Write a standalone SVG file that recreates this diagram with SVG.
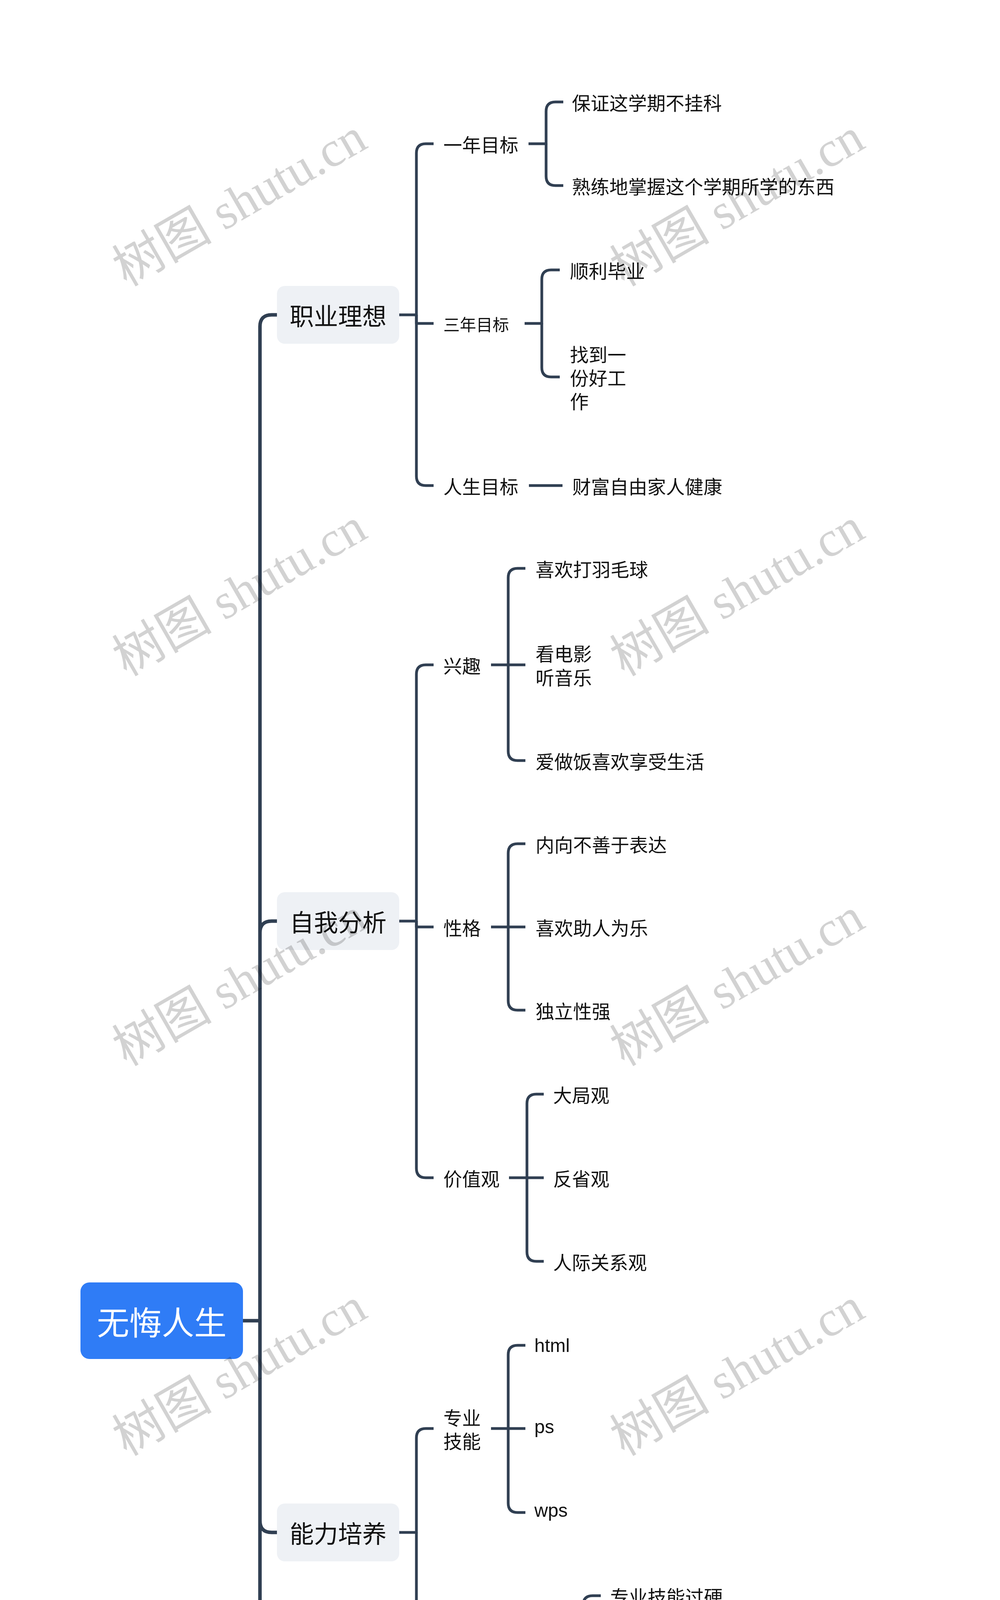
<svg xmlns="http://www.w3.org/2000/svg" width="2560" height="6700" viewBox="0 0 2560 6700">
<style>
.bg{fill:#ffffff}
.c{fill:none;stroke:#303f52;stroke-linecap:butt;stroke-linejoin:round}
.c0{stroke-width:9}
.c1{stroke-width:7}
.c2{stroke-width:7}
.t{font-family:"Noto Sans CJK SC","Liberation Sans",sans-serif;fill:#111111;dominant-baseline:central}
.lat{font-family:"Liberation Sans","Noto Sans CJK SC",sans-serif;fill:#111111;dominant-baseline:central}
.s48{font-size:48px}
.s42{font-size:42px}
.s62{font-size:62px}
.box{fill:#eef1f5}
.root{fill:#2f7cf6}
.rt{font-family:"Noto Sans CJK SC","Liberation Sans",sans-serif;fill:#ffffff;font-size:83px;dominant-baseline:central}
.wm{font-family:"Liberation Serif","Noto Sans CJK SC",serif;font-size:128px;fill:#d2d2d2;mix-blend-mode:multiply}
</style>
<rect class="bg" x="0" y="0" width="2560" height="6700"/>

<g id="connectors">
  <path class="c c0" d="M622,3381 H665.5 V836 Q665.5,806 695.5,806 H709"/>
  <path class="c c0" d="M665.5,3381 V2388 Q665.5,2358 695.5,2358 H709"/>
  <path class="c c0" d="M665.5,3381 V3893 Q665.5,3923 695.5,3923 H709"/>
  <path class="c c0" d="M665.5,3381 V4909 Q665.5,4939 695.5,4939 H709"/>
  <path class="c c0" d="M665.5,3381 V5926 Q665.5,5956 695.5,5956 H709"/>

  <path class="c c1" d="M1022,806 H1066 V392 Q1066,368 1090,368 H1110"/>
  <path class="c c1" d="M1066,806 V828 H1110"/>
  <path class="c c1" d="M1066,806 V1219 Q1066,1243 1090,1243 H1110"/>
  <path class="c c1" d="M1022,2358 H1066 V1726 Q1066,1702 1090,1702 H1110"/>
  <path class="c c1" d="M1066,2358 V2373 H1110"/>
  <path class="c c1" d="M1066,2358 V2991 Q1066,3015 1090,3015 H1110"/>
  <path class="c c1" d="M1022,3923 H1066 V3681 Q1066,3657 1090,3657 H1110"/>
  <path class="c c1" d="M1066,3923 V4168 Q1066,4192 1090,4192 H1110"/>
  <path class="c c1" d="M1022,4939 H1066 V4643 Q1066,4619 1090,4619 H1110"/>
  <path class="c c1" d="M1066,4939 V4940 H1110"/>
  <path class="c c1" d="M1066,4939 V5237 Q1066,5261 1090,5261 H1110"/>
  <path class="c c1" d="M1022,5956 H1066 V5714 Q1066,5690 1090,5690 H1110"/>
  <path class="c c1" d="M1066,5956 V6202 Q1066,6226 1090,6226 H1110"/>

  <path class="c c2" d="M1353,368 H1398 V285 Q1398,261 1422,261 H1442"/>
  <path class="c c2" d="M1398,368 V451 Q1398,475 1422,475 H1442"/>
  <path class="c c2" d="M1343,828 H1387 V715 Q1387,691 1411,691 H1433"/>
  <path class="c c2" d="M1387,828 V941 Q1387,965 1411,965 H1433"/>
  <path class="c c2" d="M1354,1243 H1440"/>
  <path class="c c2" d="M1257,1702 H1301 V1479 Q1301,1455 1325,1455 H1345"/>
  <path class="c c2" d="M1301,1702 H1345"/>
  <path class="c c2" d="M1301,1702 V1923 Q1301,1947 1325,1947 H1345"/>
  <path class="c c2" d="M1257,2373 H1301 V2184 Q1301,2160 1325,2160 H1345"/>
  <path class="c c2" d="M1301,2373 H1345"/>
  <path class="c c2" d="M1301,2373 V2562 Q1301,2586 1325,2586 H1345"/>
  <path class="c c2" d="M1303,3015 H1349 V2825 Q1349,2801 1373,2801 H1392"/>
  <path class="c c2" d="M1349,3015 H1392"/>
  <path class="c c2" d="M1349,3015 V3205 Q1349,3229 1373,3229 H1392"/>
  <path class="c c2" d="M1257,3657 H1301 V3468 Q1301,3444 1325,3444 H1345"/>
  <path class="c c2" d="M1301,3657 H1345"/>
  <path class="c c2" d="M1301,3657 V3848 Q1301,3872 1325,3872 H1345"/>
  <path class="c c2" d="M1450,4192 H1493 V4109 Q1493,4085 1517,4085 H1538"/>
  <path class="c c2" d="M1493,4192 V4274 Q1493,4298 1517,4298 H1538"/>
  <path class="c c2" d="M1354,4619 H1397 V4537 Q1397,4513 1421,4513 H1442"/>
  <path class="c c2" d="M1397,4619 V4701 Q1397,4725 1421,4725 H1442"/>
  <path class="c c2" d="M1637,4513 H1723"/>
  <path class="c c2" d="M1354,4940 H1440"/>
  <path class="c c2" d="M1782,4940 H1869"/>
  <path class="c c2" d="M1354,5261 H1397 V5179 Q1397,5155 1421,5155 H1442"/>
  <path class="c c2" d="M1397,5261 V5344 Q1397,5368 1421,5368 H1442"/>
  <path class="c c2" d="M1590,5155 H1676"/>
  <path class="c c2" d="M1590,5368 H1676"/>
  <path class="c c2" d="M1354,5690 H1397 V5608 Q1397,5584 1421,5584 H1442"/>
  <path class="c c2" d="M1397,5690 V5772 Q1397,5796 1421,5796 H1442"/>
  <path class="c c2" d="M1354,6226 H1397 V6033 Q1397,6009 1421,6009 H1442"/>
  <path class="c c2" d="M1397,6226 H1442"/>
  <path class="c c2" d="M1397,6226 V6416 Q1397,6440 1421,6440 H1442"/>
</g>

<g id="node-root">
  <rect class="root" x="206" y="3283" width="416" height="196" rx="23"/>
  <text class="rt" x="414" y="3381" text-anchor="middle">无悔人生</text>
</g>

<g id="node-zhiye">
  <rect class="box" x="709" y="732" width="313" height="148" rx="20"/>
  <text class="t s62" x="865.5" y="806" text-anchor="middle">职业理想</text>
</g>
<g id="node-yinian"><text class="t s48" x="1135" y="368">一年目标</text></g>
<g id="node-yinian-1"><text class="t s48" x="1464" y="261">保证这学期不挂科</text></g>
<g id="node-yinian-2"><text class="t s48" x="1464" y="475">熟练地掌握这个学期所学的东西</text></g>
<g id="node-sannian"><text class="t s42" x="1135" y="828">三年目标</text></g>
<g id="node-sannian-1"><text class="t s48" x="1459" y="691">顺利毕业</text></g>
<g id="node-sannian-2"><text class="t s48"><tspan x="1459" y="905">找到一</tspan><tspan x="1459" y="965">份好工</tspan><tspan x="1459" y="1025">作</tspan></text></g>
<g id="node-rensheng"><text class="t s48" x="1135" y="1243">人生目标</text></g>
<g id="node-rensheng-1"><text class="t s48" x="1465" y="1243">财富自由家人健康</text></g>

<g id="node-ziwo">
  <rect class="box" x="709" y="2284" width="313" height="148" rx="20"/>
  <text class="t s62" x="865.5" y="2358" text-anchor="middle">自我分析</text>
</g>
<g id="node-xingqu"><text class="t s48" x="1135" y="1702">兴趣</text></g>
<g id="node-xingqu-1"><text class="t s48" x="1371" y="1455">喜欢打羽毛球</text></g>
<g id="node-xingqu-2"><text class="t s48"><tspan x="1371" y="1671">看电影</tspan><tspan x="1371" y="1732">听音乐</tspan></text></g>
<g id="node-xingqu-3"><text class="t s48" x="1371" y="1947">爱做饭喜欢享受生活</text></g>
<g id="node-xingge"><text class="t s48" x="1135" y="2373">性格</text></g>
<g id="node-xingge-1"><text class="t s48" x="1371" y="2160">内向不善于表达</text></g>
<g id="node-xingge-2"><text class="t s48" x="1371" y="2373">喜欢助人为乐</text></g>
<g id="node-xingge-3"><text class="t s48" x="1371" y="2586">独立性强</text></g>
<g id="node-jiazhi"><text class="t s48" x="1135" y="3015">价值观</text></g>
<g id="node-jiazhi-1"><text class="t s48" x="1416" y="2801">大局观</text></g>
<g id="node-jiazhi-2"><text class="t s48" x="1416" y="3015">反省观</text></g>
<g id="node-jiazhi-3"><text class="t s48" x="1416" y="3229">人际关系观</text></g>

<g id="node-nengli">
  <rect class="box" x="709" y="3849" width="313" height="148" rx="20"/>
  <text class="t s62" x="865.5" y="3923" text-anchor="middle">能力培养</text>
</g>
<g id="node-zhuanye"><text class="t s48"><tspan x="1135" y="3627">专业</tspan><tspan x="1135" y="3687">技能</tspan></text></g>
<g id="node-zhuanye-1"><text class="lat s48" x="1368" y="3444">html</text></g>
<g id="node-zhuanye-2"><text class="lat s48" x="1368" y="3652">ps</text></g>
<g id="node-zhuanye-3"><text class="lat s48" x="1368" y="3866">wps</text></g>
<g id="node-hexin"><text class="t s48" x="1135" y="4192">职业核心能力</text></g>
<g id="node-hexin-1"><text class="t s48" x="1562" y="4085">专业技能过硬</text></g>
<g id="node-hexin-2"><text class="t s48" x="1562" y="4298">社交能力过硬</text></g>

<g id="node-juece">
  <rect class="box" x="709" y="4865" width="313" height="148" rx="20"/>
  <text class="t s62" x="865.5" y="4939" text-anchor="middle">决策定位</text>
</g>
<g id="node-lujing"><text class="t s48" x="1135" y="4619">路径分析</text></g>
<g id="node-lujing-1"><text class="t s48" x="1467" y="4513">专接本</text></g>
<g id="node-lujing-1a"><text class="t s48" x="1749" y="4513">因为那会提高我的第一学历</text></g>
<g id="node-lujing-2"><text class="t s48" x="1467" y="4725">直接就业</text></g>
<g id="node-pingheng"><text class="t s48" x="1135" y="4940">决策平衡</text></g>
<g id="node-pingheng-1"><text class="t s48" x="1467" y="4940">个人物质得失</text></g>
<g id="node-pingheng-1a"><text class="t s48" x="1893" y="4940">付出就有回报</text></g>
<g id="node-xingdong"><text class="t s48" x="1135" y="5261">行动策略</text></g>
<g id="node-xingdong-1"><text class="t s48" x="1467" y="5155">证书</text></g>
<g id="node-xingdong-1a"><text class="t s48" x="1702" y="5155">因为那是对我能力的肯定</text></g>
<g id="node-xingdong-2"><text class="t s48" x="1467" y="5368">实践</text></g>
<g id="node-xingdong-2a"><text class="t s48" x="1702" y="5368">可以更好的应用学会的知识</text></g>

<g id="node-pinggu">
  <rect class="box" x="709" y="5882" width="313" height="148" rx="20"/>
  <text class="t s62" x="865.5" y="5956" text-anchor="middle">评估调整</text>
</g>
<g id="node-shijian"><text class="t s48" x="1135" y="5690">时间管理</text></g>
<g id="node-shijian-1"><text class="t s48" x="1467" y="5584">利用暑假去实践</text></g>
<g id="node-shijian-2"><text class="t s48" x="1467" y="5796">这个寒假会查漏补缺</text></g>
<g id="node-xueqi"><text class="t s48" x="1135" y="6226">学期总结</text></g>
<g id="node-xueqi-1"><text class="t s48" x="1467" y="6009">在学习当中认识到了不认真</text></g>
<g id="node-xueqi-2"><text class="t s48" x="1467" y="6226">在生活中要更加的独立坚强</text></g>
<g id="node-xueqi-3"><text class="t s48" x="1467" y="6440">认识了很多新朋友</text></g>

<g id="watermarks">
  <text class="wm" transform="translate(324,735) rotate(-30)">树图 shutu.cn</text>
  <text class="wm" transform="translate(1598,735) rotate(-30)">树图 shutu.cn</text>
  <text class="wm" transform="translate(324,1733) rotate(-30)">树图 shutu.cn</text>
  <text class="wm" transform="translate(1598,1733) rotate(-30)">树图 shutu.cn</text>
  <text class="wm" transform="translate(324,2731) rotate(-30)">树图 shutu.cn</text>
  <text class="wm" transform="translate(1598,2731) rotate(-30)">树图 shutu.cn</text>
  <text class="wm" transform="translate(324,3729) rotate(-30)">树图 shutu.cn</text>
  <text class="wm" transform="translate(1598,3729) rotate(-30)">树图 shutu.cn</text>
  <text class="wm" transform="translate(324,4727) rotate(-30)">树图 shutu.cn</text>
  <text class="wm" transform="translate(1598,4727) rotate(-30)">树图 shutu.cn</text>
  <text class="wm" transform="translate(324,5725) rotate(-30)">树图 shutu.cn</text>
  <text class="wm" transform="translate(1598,5725) rotate(-30)">树图 shutu.cn</text>
  <text class="wm" transform="translate(324,6723) rotate(-30)">树图 shutu.cn</text>
  <text class="wm" transform="translate(1598,6723) rotate(-30)">树图 shutu.cn</text>
</g>
</svg>
